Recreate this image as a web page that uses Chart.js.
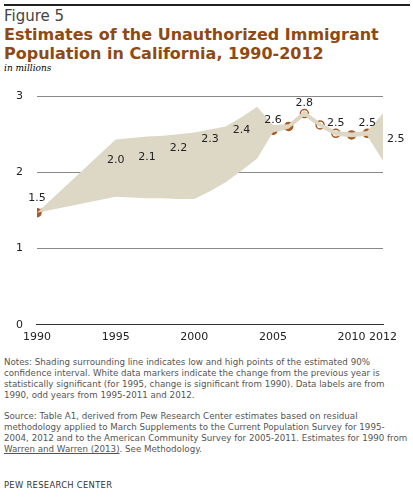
<!DOCTYPE html>
<html><head><meta charset="utf-8">
<script src="https://cdn.jsdelivr.net/npm/chart.js@4"></script>
<style>
body{margin:0;width:413px;height:499px;position:relative;font-family:"DejaVu Sans",Verdana,sans-serif;background:#fff;overflow:hidden}
#top{position:absolute;left:4px;top:4px;width:406px;border-top:2px solid #222}
#fig{position:absolute;left:4px;top:7px;font-size:15px;color:#444}
#title{position:absolute;left:4px;top:25px;font-size:16px;font-weight:bold;color:#8f4a14;line-height:19px}
#sub{position:absolute;left:4px;top:63px;font-size:9px;font-style:italic;font-family:"DejaVu Serif",serif}
#wrap{position:absolute;left:0;top:0;width:413px;height:350px}
.note{position:absolute;left:4px;width:404px;font-size:8.7px;color:#555;line-height:11px}
#n1{top:357px}#n2{top:411px}
#src{position:absolute;left:4px;top:480px;font-size:8.4px;color:#333;letter-spacing:0.3px}
u{text-decoration:underline}
</style></head><body>
<div id="top"></div>
<div id="fig">Figure 5</div>
<div id="title">Estimates of the Unauthorized Immigrant<br>Population in California, 1990-2012</div>
<div id="sub">in millions</div>
<div id="wrap"><canvas id="c" width="413" height="350"></canvas></div>
<div class="note" id="n1">Notes: Shading surrounding line indicates low and high points of the estimated 90% confidence interval. White data markers indicate the change from the previous year is statistically significant (for 1995, change is significant from 1990). Data labels are from 1990, odd years from 1995-2011 and 2012.</div>
<div class="note" id="n2">Source: Table A1, derived from Pew Research Center estimates based on residual methodology applied to March Supplements to the Current Population Survey for 1995-2004, 2012 and to the American Community Survey for 2005-2011. Estimates for 1990 from <u>Warren and Warren (2013)</u>. See Methodology.</div>
<div id="src">PEW RESEARCH CENTER</div>
<script>
const years=[1990,1995,1996,1997,1998,1999,2000,2001,2002,2003,2004,2005,2006,2007,2008,2009,2010,2011,2012];
const estimate=[1.47,2.02,2.04,2.06,2.12,2.18,2.25,2.30,2.33,2.41,2.52,2.55,2.60,2.77,2.62,2.51,2.49,2.51,2.45];
const upper=[1.47,2.43,2.45,2.47,2.48,2.50,2.52,2.56,2.60,2.72,2.86,2.62,2.63,2.81,2.65,2.54,2.52,2.54,2.77];
const lower=[1.47,1.68,1.67,1.66,1.66,1.65,1.65,1.75,1.87,2.02,2.18,2.52,2.57,2.74,2.59,2.48,2.46,2.48,2.15];
const significant=[1995,2007,2008,2009];
const labelYears=[1990,1995,1997,1999,2001,2003,2005,2007,2009,2011,2012];
const labelText=["1.5","2.0","2.1","2.2","2.3","2.4","2.6","2.8","2.5","2.5","2.5"];
const xTicks=[1990,1995,2000,2005,2010,2012];
const yTicks=[0,1,2,3];
const col='#a85a22';
const pts=a=>years.map((y,i)=>({x:y,y:a[i]}));
const labels={id:'lbl',afterDatasetsDraw(ch){const c=ch.ctx,m=ch.getDatasetMeta(2);c.save();c.font='11px "DejaVu Sans"';c.fillStyle='#222';
labelYears.forEach((y,k)=>{const i=years.indexOf(y),p=m.data[i];
if(y===2012){c.textAlign='left';c.textBaseline='middle';c.fillText(labelText[k],p.x+4,p.y+1);}
else if(y===1990){c.textAlign='center';c.textBaseline='bottom';c.fillText(labelText[k],p.x,p.y-9);}
else{c.textAlign='center';c.textBaseline='bottom';c.fillText(labelText[k],p.x,p.y-5);}});c.restore();}};
new Chart(document.getElementById('c'),{type:'line',
data:{datasets:[
{data:pts(upper),borderWidth:0,pointRadius:0,fill:'+1',backgroundColor:'#ddd8c6'},
{data:pts(lower),borderWidth:0,pointRadius:0,fill:false},
{data:pts(estimate),borderColor:col,borderWidth:3,pointRadius:4,pointBorderWidth:1.5,pointBorderColor:col,
 pointBackgroundColor:years.map(y=>significant.includes(y)?'#fff':col),fill:false}]},
options:{responsive:false,animation:false,events:[],devicePixelRatio:1,
layout:{padding:{left:2,right:30,top:96,bottom:0}},
plugins:{legend:{display:false},tooltip:{enabled:false}},
scales:{x:{type:'linear',min:1990,max:2012,afterBuildTicks:s=>{s.ticks=xTicks.map(v=>({value:v}))},
 grid:{display:false,drawTicks:false},border:{color:'#333',width:1},
 ticks:{callback:v=>String(v),font:{size:11,family:'DejaVu Sans'},color:'#222',padding:6,maxRotation:0}},
y:{min:0,max:3,afterBuildTicks:s=>{s.ticks=yTicks.map(v=>({value:v}))},
 grid:{color:'#888',borderDash:[1,2],drawTicks:false},border:{display:false},
 ticks:{font:{size:11,family:'DejaVu Sans'},color:'#222',padding:14}}}},
plugins:[labels]});
</script></body></html>
